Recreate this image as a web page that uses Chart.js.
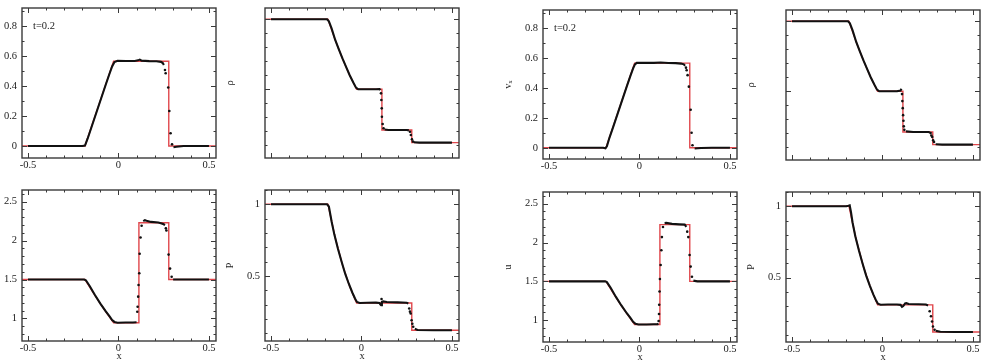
<!DOCTYPE html>
<html>
<head>
<meta charset="utf-8">
<script src="https://cdn.jsdelivr.net/npm/chart.js@4.4.1/dist/chart.umd.min.js"></script>
<style>
  body { margin: 0; background: #fff; }
  #fig { position: relative; width: 987px; height: 362px; overflow: hidden; background: #fff; }
  #fig canvas { position: absolute; }
</style>
</head>
<body>
<div id="fig"></div>
<script>
// exact (Riemann) solution, same for both runs: shared x breakpoints
const exactX   = [-0.533, -0.185, -0.145, -0.105, -0.065, -0.027, 0.113, 0.113, 0.278, 0.278, 0.539];
const exactV   = [0, 0, 0.143, 0.286, 0.429, 0.565, 0.565, 0.565, 0.565, 0, 0];
const exactRho = [1, 1, 0.852, 0.719, 0.6, 0.5, 0.5, 0.21, 0.21, 0.12, 0.12];
const exactU   = [1.5, 1.5, 1.35, 1.205, 1.07, 0.945, 0.945, 2.23, 2.23, 1.5, 1.5];
const exactP   = [1, 1, 0.766, 0.577, 0.426, 0.31, 0.31, 0.31, 0.31, 0.12, 0.12];

// particles, left pair of columns (null = break in the line)
const simVA = [[-0.5,0],[-0.35,0],[-0.2,0],[-0.185,0.003],[-0.17,0.05],[-0.145,0.14],[-0.12,0.23],[-0.095,0.32],
  [-0.07,0.41],[-0.05,0.48],[-0.035,0.53],[-0.022,0.56],[-0.005,0.568],[0.04,0.567],[0.09,0.567],[0.108,0.571],
  [0.118,0.576],[0.128,0.569],[0.17,0.566],[0.21,0.565],[0.235,0.561],[0.245,0.553],[0.251,0.54],
  null,[0.304,-0.008],[0.32,-0.005],[0.36,0],[0.5,0]];
const dotVA = [[0.257,0.507],[0.261,0.485],[0.275,0.39],[0.281,0.233],[0.288,0.085],[0.296,0.011]];

const simRhoA = [[-0.5,1],[-0.3,1],[-0.19,1],[-0.18,0.985],[-0.165,0.935],[-0.145,0.852],[-0.125,0.785],[-0.105,0.72],
  [-0.085,0.66],[-0.065,0.6],[-0.045,0.548],[-0.03,0.512],[-0.018,0.5],[0.03,0.5],[0.08,0.5],[0.1,0.501],[0.105,0.495],
  null,[0.128,0.213],[0.15,0.21],[0.2,0.21],[0.25,0.21],[0.262,0.207],
  null,[0.29,0.122],[0.32,0.12],[0.4,0.12],[0.5,0.12]];
const dotRhoA = [[0.108,0.471],[0.11,0.424],[0.112,0.364],[0.113,0.304],[0.117,0.252],[0.122,0.222],
  [0.268,0.197],[0.273,0.174],[0.279,0.143],[0.285,0.127]];

const simUA = [[-0.5,1.5],[-0.3,1.5],[-0.19,1.5],[-0.18,1.49],[-0.16,1.42],[-0.13,1.3],[-0.1,1.19],[-0.07,1.09],
  [-0.05,1.03],[-0.035,0.98],[-0.022,0.955],[-0.005,0.945],[0.04,0.947],[0.08,0.948],[0.1,0.95],
  null,[0.137,2.25],[0.146,2.262],[0.155,2.255],[0.18,2.24],[0.22,2.232],[0.239,2.22],[0.25,2.21],[0.257,2.2],
  null,[0.302,1.5],[0.33,1.5],[0.4,1.5],[0.5,1.5]];
const dotUA = [[0.104,1.085],[0.106,1.15],[0.109,1.28],[0.111,1.43],[0.115,1.58],[0.117,1.83],[0.122,2.04],
  [0.128,2.19],[0.262,2.157],[0.265,2.13],[0.277,1.82],[0.285,1.64],[0.294,1.535]];

const simPA = [[-0.5,1],[-0.3,1],[-0.19,1],[-0.18,0.985],[-0.165,0.88],[-0.15,0.79],[-0.13,0.69],[-0.11,0.6],
  [-0.09,0.515],[-0.07,0.445],[-0.05,0.382],[-0.035,0.34],[-0.025,0.318],[-0.01,0.311],[0.03,0.312],[0.08,0.313],
  [0.1,0.31],[0.105,0.3],[0.109,0.295],[0.113,0.318],[0.12,0.322],[0.14,0.317],[0.2,0.315],[0.25,0.312],[0.259,0.307],
  null,[0.295,0.13],[0.31,0.122],[0.4,0.12],[0.5,0.12]];
const dotPA = [[0.111,0.338],[0.264,0.272],[0.268,0.25],[0.272,0.237],[0.277,0.19],[0.281,0.165],[0.286,0.145]];

// particles, right pair of columns
const simVB = [[-0.5,0],[-0.35,0],[-0.2,0],[-0.188,-0.004],[-0.18,0.01],[-0.165,0.07],[-0.145,0.14],[-0.12,0.23],
  [-0.095,0.32],[-0.07,0.41],[-0.05,0.48],[-0.035,0.53],[-0.025,0.557],[-0.015,0.567],[0.03,0.568],[0.08,0.567],
  [0.117,0.569],[0.16,0.566],[0.2,0.565],[0.23,0.562],[0.245,0.557],[0.252,0.548],
  null,[0.305,-0.005],[0.34,-0.002],[0.4,0],[0.5,0]];
const dotVB = [[0.257,0.535],[0.261,0.518],[0.266,0.485],[0.273,0.408],[0.283,0.254],[0.288,0.1],[0.293,0.017]];

const simRhoB = [[-0.5,1],[-0.3,1],[-0.19,1],[-0.18,0.985],[-0.165,0.935],[-0.145,0.852],[-0.125,0.785],[-0.105,0.72],
  [-0.085,0.66],[-0.065,0.6],[-0.045,0.548],[-0.03,0.512],[-0.018,0.5],[0.03,0.5],[0.08,0.5],[0.1,0.505],[0.105,0.518],
  null,[0.13,0.214],[0.17,0.21],[0.22,0.21],[0.255,0.21],[0.262,0.207],
  null,[0.294,0.122],[0.33,0.12],[0.4,0.12],[0.5,0.12]];
const dotRhoB = [[0.108,0.48],[0.11,0.43],[0.112,0.38],[0.114,0.33],[0.116,0.29],[0.118,0.25],[0.121,0.225],
  [0.266,0.202],[0.27,0.185],[0.275,0.174],[0.28,0.15],[0.285,0.138]];

const simUB = [[-0.5,1.5],[-0.3,1.5],[-0.19,1.5],[-0.18,1.49],[-0.16,1.42],[-0.13,1.3],[-0.1,1.19],[-0.07,1.09],
  [-0.05,1.03],[-0.035,0.98],[-0.022,0.953],[-0.005,0.945],[0.04,0.946],[0.08,0.948],[0.1,0.95],[0.104,0.96],
  null,[0.139,2.25],[0.148,2.252],[0.18,2.24],[0.22,2.234],[0.25,2.23],[0.259,2.2],
  null,[0.298,1.51],[0.32,1.5],[0.4,1.5],[0.5,1.5]];
const dotUB = [[0.106,0.99],[0.108,1.08],[0.109,1.2],[0.111,1.37],[0.113,1.53],[0.117,1.71],[0.121,1.9],[0.124,2.07],
  [0.13,2.2],[0.264,2.14],[0.27,2.07],[0.277,1.84],[0.283,1.69],[0.29,1.56]];

const simPB = [[-0.5,1],[-0.3,1],[-0.2,1],[-0.188,1.004],[-0.181,1.007],[-0.174,0.96],[-0.165,0.885],[-0.15,0.79],
  [-0.13,0.69],[-0.11,0.6],[-0.09,0.515],[-0.07,0.445],[-0.05,0.382],[-0.035,0.34],[-0.025,0.318],[-0.01,0.311],
  [0.03,0.312],[0.08,0.313],[0.1,0.31],[0.108,0.296],[0.115,0.302],[0.125,0.32],[0.132,0.322],[0.145,0.316],
  [0.2,0.314],[0.24,0.312],[0.252,0.305],
  null,[0.295,0.128],[0.32,0.122],[0.4,0.12],[0.5,0.12]];
const dotPB = [[0.261,0.265],[0.268,0.23],[0.274,0.194],[0.279,0.158],[0.288,0.136]];

// tick labels
const xTicks = [-0.5, 0, 0.5];
const vTicks = [0, 0.2, 0.4, 0.6, 0.8];
const uTicks = [1, 1.5, 2, 2.5];
const pTicks = [0.5, 1];

const RED = '#e0474c';
const INK = '#111';
const FRAME = '#3a3a3a';
const FONT = "'Liberation Serif', 'Times New Roman', serif";
const FS = 10.5;

const panels = [
  { box: [22, 8, 194, 150],   exact: exactV,   sim: simVA,   dots: dotVA,   y: [-0.08, 0.92], labels: vTicks, major: 2, title: '',  xLab: true,  xTitle: false, note: 't=0.2' },
  { box: [265, 8, 194, 150],  exact: exactRho, sim: simRhoA, dots: dotRhoA, y: [0.01, 1.08],  labels: [],     major: 5, title: 'ρ', xLab: false, xTitle: false },
  { box: [22, 190, 194, 151], exact: exactU,   sim: simUA,   dots: dotUA,   y: [0.71, 2.65],  labels: uTicks, major: 5, title: '',  xLab: true,  xTitle: true },
  { box: [265, 190, 194, 151],exact: exactP,   sim: simPA,   dots: dotPA,   y: [0.045, 1.1],  labels: pTicks, major: 5, title: 'P', xLab: true,  xTitle: true },
  { box: [543, 10, 194, 149], exact: exactV,   sim: simVB,   dots: dotVB,   y: [-0.075, 0.92],labels: vTicks, major: 2, title: 'vₓ', xLab: true, xTitle: false, note: 't=0.2' },
  { box: [786, 10, 194, 150], exact: exactRho, sim: simRhoB, dots: dotRhoB, y: [0.01, 1.08],  labels: [],     major: 5, title: 'ρ', xLab: false, xTitle: false },
  { box: [543, 192, 194, 150],exact: exactU,   sim: simUB,   dots: dotUB,   y: [0.72, 2.65],  labels: uTicks, major: 5, title: 'u', xLab: true,  xTitle: true },
  { box: [786, 192, 194, 150],exact: exactP,   sim: simPB,   dots: dotPB,   y: [0.05, 1.1],   labels: pTicks, major: 5, title: 'P', xLab: true,  xTitle: true }
];

const Y_W = 41, X_H = 22, PAD_T = 6, PAD_R = 10, PAD_B = 2;

function pts(list) {
  return list.map((p, i) => p === null ? { x: list[i - 1][0], y: null } : { x: p[0], y: p[1] });
}

// frame with inward major/minor ticks on all four sides, plus the time note
const frameTicks = {
  id: 'frameTicks',
  afterDatasetsDraw(chart, args, o) {
    const { ctx, chartArea: a, scales: { x, y } } = chart;
    ctx.save();
    ctx.strokeStyle = FRAME;
    ctx.lineWidth = 1;
    ctx.beginPath();
    for (let k = -5; k <= 5; k++) {
      const px = Math.round(x.getPixelForValue(k / 10)) + 0.5;
      const len = k % 5 === 0 ? 5 : 2.5;
      ctx.moveTo(px, a.bottom); ctx.lineTo(px, a.bottom - len);
      ctx.moveTo(px, a.top); ctx.lineTo(px, a.top + len);
    }
    for (let k = Math.ceil(y.min * 10); k <= Math.floor(y.max * 10); k++) {
      const py = Math.round(y.getPixelForValue(k / 10)) + 0.5;
      const len = k % o.major === 0 ? 5 : 2.5;
      ctx.moveTo(a.left, py); ctx.lineTo(a.left + len, py);
      ctx.moveTo(a.right, py); ctx.lineTo(a.right - len, py);
    }
    ctx.stroke();
    ctx.lineWidth = 1.4;
    ctx.strokeRect(a.left, a.top, a.right - a.left, a.bottom - a.top);
    if (o.note) {
      ctx.fillStyle = '#222';
      ctx.font = FS + 'px ' + FONT;
      ctx.textAlign = 'left';
      ctx.textBaseline = 'middle';
      ctx.fillText(o.note, a.left + 11, y.getPixelForValue(0.8));
    }
    ctx.restore();
  }
};

const fig = document.getElementById('fig');

panels.forEach(p => {
  const [fx, fy, fw, fh] = p.box;
  const cv = document.createElement('canvas');
  cv.width = Y_W + fw + PAD_R;
  cv.height = PAD_T + fh + X_H + PAD_B;
  cv.style.left = (fx - Y_W) + 'px';
  cv.style.top = (fy - PAD_T) + 'px';
  fig.appendChild(cv);

  new Chart(cv.getContext('2d'), {
    type: 'scatter',
    data: {
      datasets: [
        { data: pts(p.dots), showLine: false, pointRadius: 1.3, pointBorderWidth: 0, pointBackgroundColor: INK },
        { data: pts(p.sim), showLine: true, spanGaps: false, borderColor: INK, borderWidth: 2.1, pointRadius: 0 },
        { data: pts(p.exact.map((v, i) => [exactX[i], v])), showLine: true, borderColor: RED, borderWidth: 1.4, pointRadius: 0 }
      ]
    },
    options: {
      responsive: false,
      animation: false,
      events: [],
      layout: { padding: { top: PAD_T, right: PAD_R, bottom: PAD_B, left: 0 } },
      plugins: {
        legend: { display: false },
        tooltip: { enabled: false },
        frameTicks: { major: p.major, note: p.note }
      },
      scales: {
        x: {
          type: 'linear',
          min: -0.533, max: 0.539,
          afterBuildTicks: s => { s.ticks = xTicks.map(v => ({ value: v })); },
          afterFit: s => { s.height = X_H; s.paddingLeft = 0; s.paddingRight = 0; },
          grid: { display: false, drawTicks: false },
          border: { display: false },
          ticks: { display: p.xLab, padding: 1, maxRotation: 0, autoSkip: false, color: '#222',
                   font: { family: FONT, size: FS }, callback: v => String(v) },
          title: { display: p.xTitle, text: 'x', color: '#222', padding: 0, font: { family: FONT, size: FS } }
        },
        y: {
          type: 'linear',
          min: p.y[0], max: p.y[1],
          afterBuildTicks: s => { s.ticks = p.labels.map(v => ({ value: v })); },
          afterFit: s => { s.width = Y_W; s.paddingTop = 0; s.paddingBottom = 0; },
          grid: { display: false, drawTicks: false },
          border: { display: false },
          ticks: { display: p.labels.length > 0, padding: 5, color: '#222',
                   font: { family: FONT, size: FS }, callback: v => String(v) },
          title: { display: p.title !== '', text: p.title, color: '#222', padding: 0, font: { family: FONT, size: FS } }
        }
      }
    },
    plugins: [frameTicks]
  });
});
</script>
</body>
</html>
